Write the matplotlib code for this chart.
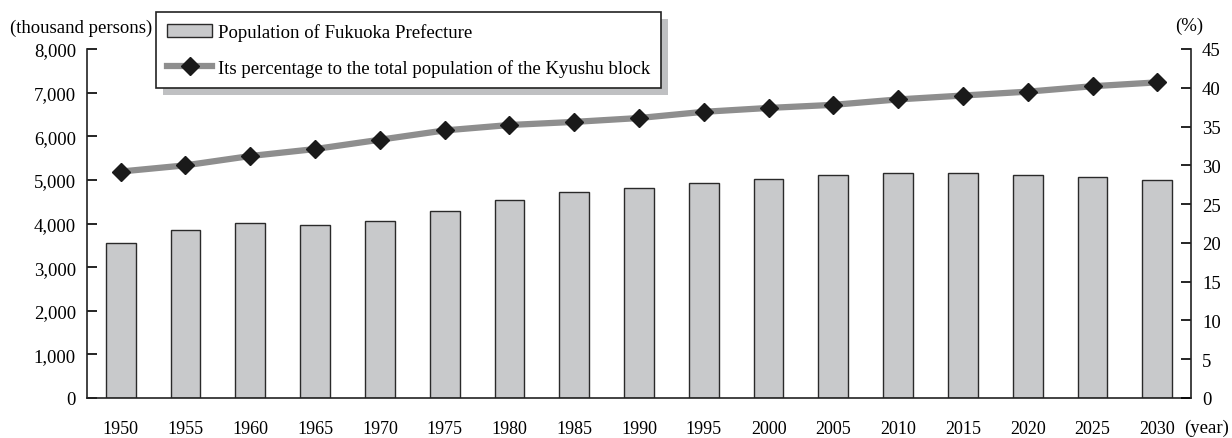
import matplotlib
matplotlib.use('Agg')
import matplotlib.pyplot as plt
from matplotlib.patches import Rectangle

plt.rcParams['font.family'] = ['Liberation Serif', 'DejaVu Serif']

anos = ['1950', '1955', '1960', '1965', '1970', '1975', '1980', '1985', '1990',
        '1995', '2000', '2005', '2010', '2015', '2020', '2025', '2030']
populacao = [3550, 3860, 4010, 3960, 4050, 4290, 4550, 4720, 4810,
             4930, 5020, 5110, 5160, 5160, 5110, 5070, 4990]
percentual = [29.2, 30.0, 31.2, 32.1, 33.3, 34.5, 35.2, 35.6, 36.1,
              36.9, 37.4, 37.8, 38.5, 39.0, 39.5, 40.2, 40.7]
yticks_esq = [0, 1000, 2000, 3000, 4000, 5000, 6000, 7000, 8000]
yticks_dir = [0, 5, 10, 15, 20, 25, 30, 35, 40, 45]

fig = plt.figure(figsize=(12.32, 4.39), dpi=100)
ax = fig.add_axes([87/1232, 40/439, (1191-87)/1232, (399-50)/439])
ax2 = ax.twinx()

x = list(range(len(anos)))
barras = ax.bar(x, populacao, width=0.46, color='#c8c9cb', edgecolor='#2a2a2a',
                linewidth=1.0, label='Population of Fukuoka Prefecture')
linha, = ax2.plot(x, percentual, color='#8e8e8e', linewidth=4.5, marker='D',
                  markersize=9, markerfacecolor='#1a1a1a', markeredgecolor='#1a1a1a',
                  label='Its percentage to the total population of the Kyushu block')

ax.set_xlim(-0.52, len(anos) - 0.48)
ax.set_ylim(0, 8000)
ax2.set_ylim(0, 45)

ax.set_xticks(x)
ax.set_xticklabels(anos)
ax.set_yticks(yticks_esq)
ax.set_yticklabels([f'{v:,}' for v in yticks_esq])
ax2.set_yticks(yticks_dir)

for a in (ax, ax2):
    a.spines['top'].set_visible(False)
    for s in a.spines.values():
        s.set_linewidth(1.2)
        s.set_color('#222222')
ax.spines['right'].set_visible(False)
ax2.spines['left'].set_visible(False)
ax2.spines['bottom'].set_visible(False)
ax.spines['left'].set_bounds(0, 8000)
ax2.spines['right'].set_bounds(0, 45)

ax.tick_params(axis='x', length=0, pad=16, labelsize=13)
ax.tick_params(axis='y', direction='in', length=7, width=1.2, pad=8, labelsize=13.5)
ax2.tick_params(axis='y', direction='in', length=7, width=1.2, pad=8, labelsize=13.5)

fig.text(10/1232, 1 - 28/439, '(thousand persons)', fontsize=13.5, va='center', ha='left')
fig.text(1175/1232, 1 - 26/439, '(%)', fontsize=13.5, va='center', ha='left')
fig.text(1229/1232, 1 - 428/439, '(year)', fontsize=13.5, va='center', ha='right')

leg = ax2.legend([barras, linha],
                 ['Population of Fukuoka Prefecture',
                  'Its percentage to the total population of the Kyushu block'],
                 loc='upper left', bbox_to_anchor=(156/1232, 1 - 13/439),
                 bbox_transform=fig.transFigure, borderaxespad=0, fancybox=False,
                 framealpha=1, edgecolor='#222222', fontsize=13.5, numpoints=1,
                 handlelength=2.4, handletextpad=0.3, labelspacing=0.95, borderpad=0.6)
leg.get_frame().set_linewidth(1.2)

# sombra da legenda
fig.canvas.draw()
bb = leg.get_window_extent()
sombra = Rectangle((bb.x0 + 7, bb.y0 - 7), bb.width, bb.height, transform=None,
                   facecolor='#bfc0c2', edgecolor='none', zorder=4.9, clip_on=False)
ax2.add_artist(sombra)

fig.savefig('out.png', dpi=100)
